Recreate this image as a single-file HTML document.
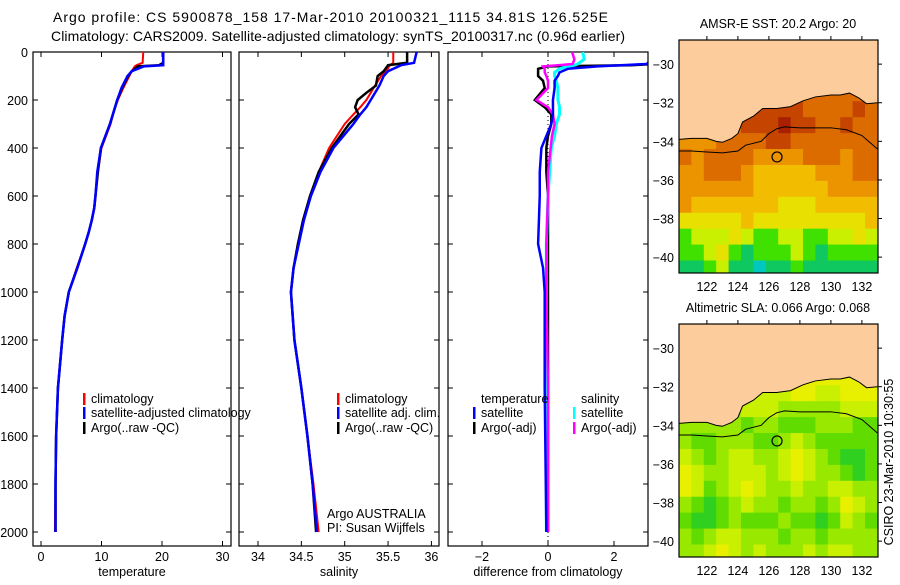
<!DOCTYPE html>
<html><head><meta charset="utf-8"><style>
body{margin:0;background:#fff;width:900px;height:580px;overflow:hidden;font-family:"Liberation Sans",sans-serif}
svg text{font-family:"Liberation Sans",sans-serif;font-size:12.5px;fill:#000}
</style></head><body>
<svg id="c" width="900" height="580"></svg>
<script>
// ---- data ----
const tDepth=[0,45,55,60,80,100,150,200,250,300,400,500,600,650,700,750,800,900,1000,1100,1200,1400,1600,1800,2000];
const tArgo=[20.2,20.2,19.5,16,15,14.4,13.4,12.6,12,11.4,9.9,9.4,9.0,8.8,8.4,7.9,7.3,6.0,4.6,3.9,3.5,2.8,2.5,2.4,2.4];
const tClim=[16.9,16.8,15.8,15.5,15,14.6,13.6,12.7,12,11.5,10,9.4,9.0,8.8,8.4,7.9,7.3,5.9,4.6,3.9,3.5,2.8,2.5,2.4,2.3];
const tSat=[20.2,20.2,20.2,17,15,14.3,13.3,12.6,12,11.4,9.9,9.3,9.0,8.8,8.4,7.9,7.3,6.0,4.6,3.9,3.5,2.8,2.5,2.4,2.4];
const sDepth=[0,45,55,80,100,140,170,200,230,260,300,400,500,600,700,800,900,1000,1200,1400,1600,1800,2000];
const sArgo=[35.72,35.72,35.5,35.45,35.38,35.36,35.25,35.15,35.12,35.16,35.05,34.85,34.7,34.6,34.52,34.46,34.41,34.38,34.42,34.5,34.57,34.63,34.67];
const sClim=[35.56,35.56,35.52,35.48,35.42,35.35,35.3,35.25,35.18,35.1,35.0,34.82,34.7,34.6,34.52,34.46,34.41,34.38,34.42,34.5,34.57,34.64,34.7];
const sSat=[35.83,35.8,35.65,35.5,35.45,35.4,35.35,35.3,35.25,35.18,35.1,34.87,34.72,34.61,34.53,34.47,34.41,34.38,34.42,34.5,34.57,34.63,34.68];
const dDepth=[0,30,50,55,60,70,85,100,120,150,200,230,260,300,350,400,500,600,800,900,1000,1400,2000];
const dTsat=[3.1,3.1,3.0,2.2,1.5,0.6,0.35,0.3,0.2,0.2,0.15,0.15,0.15,0.1,-0.05,-0.2,-0.25,-0.25,-0.3,-0.15,-0.1,-0.1,-0.05];
const dTargo=[3.3,3.3,3.3,2.5,0,-0.3,-0.3,-0.3,-0.15,-0.1,-0.4,-0.1,0.1,0.1,0,-0.05,-0.05,0,0,0,0,0,0];
const dSsat=[1.05,1.1,0.9,0.8,0.6,0.35,0.2,0.2,0.25,0.3,0.3,0.35,0.35,0.25,0.2,0.1,0.05,0,-0.05,-0.05,-0.05,-0.05,-0.05];
const dSargo=[0.73,0.8,0.75,0.3,-0.15,-0.1,-0.1,-0.05,0.0,0.0,-0.35,0.0,0.15,0.2,0.12,0.08,0.0,0.0,-0.05,-0.05,-0.05,0,0];
const depthTicks=[0,200,400,600,800,1000,1200,1400,1600,1800,2000];
const tTicks=[0,10,20,30];
const sTicks=[34,34.5,35,35.5,36];
const sTickLabels=["34","34.5","35","35.5","36"];
const dTicks=[-2,0,2];
const lonTicks=[122,124,126,128,130,132];
const latTicks=[-30,-32,-34,-36,-38,-40];
const argoLon=126.525, argoLat=-34.81;
const coastLon=[120.2,121,122,122.6,123,123.6,124,124.3,125,125.6,126.5,127.4,128.2,129,130,130.6,131.2,131.8,132.3,133];
const coastLat=[-33.9,-33.85,-33.85,-34.0,-34.05,-33.85,-33.6,-33.0,-32.7,-32.3,-32.3,-32.2,-31.9,-31.7,-31.6,-31.6,-31.5,-31.75,-32.05,-32.0];
const shelfLon=[120.2,121,122,123,124,124.5,125.5,126,126.5,127,128,130,131,132,133];
const shelfLat=[-34.5,-34.5,-34.55,-34.6,-34.5,-34.2,-34.0,-33.6,-33.35,-33.25,-33.3,-33.3,-33.4,-33.7,-34.4];
const sstGrid=[
"2222222222222222","2222221111222212","2222211101122122","3332222112222222",
"2322223333222322","3322234444433322","3333334444443333","3444444455544444",
"5555545555555554","7666567766776656","7765787776787777","8876889887888888"];
const slaGrid=[
"0000000000000000","1111111110011000","2222211122222111","2222232233322233",
"2332223321233333","1232112210123443","0122111210122343","0132101221221122",
"2343212232232012","3443233323343123","2321122232232222","2210121222121122"];
const sstPal=["#a82000","#c44400","#dc6c00","#eb9400","#f2bc00","#e8e000","#c8f000","#40e000","#10c860","#00c8c0"];
const slaPal=["#e8f000","#c8f000","#98e800","#60dc00","#30d020"];

// ---- helpers ----
const svg=document.getElementById('c');const NS="http://www.w3.org/2000/svg";
function mk(tag,at,parent){const e=document.createElementNS(NS,tag);for(const k in at)e.setAttribute(k,at[k]);(parent||svg).appendChild(e);return e;}
function txt(x,y,s,anchor,parent){const t=mk('text',{x:x,y:y,'text-anchor':anchor||'start'},parent);t.textContent=s;return t;}
const yD=d=>52+d*0.24;
const xT=v=>41+v*6.05;
const xS=v=>258+(v-34)*86.7;
const xDf=v=>548+v*33;
function clipRect(id,x,y,w,h){const cp=mk('clipPath',{id:id});mk('rect',{x:x,y:y,width:w,height:h},cp);}
clipRect('p1',33,52,198,494);clipRect('p2',239,52,200,494);clipRect('p3',448,52,200,494);
clipRect('m1',679,40,199,233);clipRect('m2',679,324,199,233);

function line(depths,vals,fx,color,w,clip,name){
  const g=mk('polyline',{points:depths.map((d,i)=>fx(vals[i])+','+yD(d)).join(' '),fill:'none',stroke:color,'stroke-width':w,'clip-path':'url(#'+clip+')'});
  
  
}
function panelFrame(x0,x1,name,ticks,fx,labels,xlabel,ylabels){
  const r=mk('rect',{x:x0,y:52,width:x1-x0,height:494,fill:'none',stroke:'#000','stroke-width':1.2});
  
  
  depthTicks.forEach(d=>{mk('line',{x1:x0,x2:x0+5,y1:yD(d),y2:yD(d),stroke:'#000'});mk('line',{x1:x1-5,x2:x1,y1:yD(d),y2:yD(d),stroke:'#000'});
    if(ylabels){const t=txt(28,yD(d)+5,String(d),'end');}});
  ticks.forEach((v,i)=>{const x=fx(v);mk('line',{x1:x,x2:x,y1:52,y2:57,stroke:'#000'});mk('line',{x1:x,x2:x,y1:541,y2:546,stroke:'#000'});
    const t=txt(x,561,labels[i],'middle');});
  const xl=txt((x0+x1)/2,576,xlabel,'middle');
}
// titles
let t1=txt(53,22,'Argo profile: CS 5900878_158 17-Mar-2010 20100321_1115 34.81S 126.525E');
t1.setAttribute('textLength','555');t1.setAttribute('style','font-size:14px');

let t2=txt(51,41,'Climatology: CARS2009. Satellite-adjusted climatology: synTS_20100317.nc (0.96d earlier)');
t2.setAttribute('textLength','574');t2.setAttribute('style','font-size:14px');


panelFrame(33,231,'temperature-panel',tTicks,xT,tTicks.map(String),'temperature',true);
panelFrame(239,439,'salinity-panel',sTicks,xS,sTickLabels,'salinity',false);
panelFrame(448,648,'difference-panel',dTicks,xDf,dTicks.map(v=>v<0?'\u2212'+(-v):String(v)),'difference from climatology',false);

line(tDepth,tClim,xT,'#f00',2,'p1','temp-climatology-line');
line(tDepth,tArgo,xT,'#000',2.5,'p1','temp-argo-line');
line(tDepth,tSat,xT,'#00f',2.5,'p1','temp-satellite-line');
line(sDepth,sClim,xS,'#f00',2,'p2','sal-climatology-line');
line(sDepth,sArgo,xS,'#000',2.5,'p2','sal-argo-line');
line(sDepth,sSat,xS,'#00f',2.5,'p2','sal-satellite-line');
mk('line',{x1:548,x2:548,y1:52,y2:546,stroke:'#000','stroke-dasharray':'1,3'});
line(dDepth,dTargo,xDf,'#000',2.5,'p3','diff-temp-argo-line');
line(dDepth,dSsat,xDf,'#0ff',3,'p3','diff-sal-satellite-line');
line(dDepth,dSargo,xDf,'#f0f',2.5,'p3','diff-sal-argo-line');
line(dDepth,dTsat,xDf,'#00f',2.5,'p3','diff-temp-satellite-line');

function legend(x,y,color,label){const g=mk('g',{});
  if(color)mk('rect',{x:x,y:y-10,width:2.5,height:12,fill:color},g);txt(x+8,y,label,'start',g);}
legend(83,403,'#f00','climatology');legend(83,417,'#00f','satellite-adjusted climatology');legend(83,432,'#000','Argo(..raw -QC)');
legend(337,403,'#f00','climatology');legend(337,417,'#00f','satellite adj. clim.');legend(337,432,'#000','Argo(..raw -QC)');
legend(473,403,null,'temperature');legend(473,417,'#00f','satellite');legend(473,432,'#000','Argo(-adj)');
legend(573,403,null,'salinity');legend(573,417,'#0ff','satellite');legend(573,432,'#f0f','Argo(-adj)');
let a1=txt(327,518,'Argo AUSTRALIA');
let a2=txt(327,532,'PI: Susan Wijffels');

// ---- maps ----
function drawMap(top,grid,pal,clip,name,title){
  const xL=v=>679+(v-120.2)*15.5, yL=v=>top+(-28.75-v)*19.3;
  const g=mk('g',{'clip-path':'url(#'+clip+')'});
  
  
  const lonW=12.8/16, latH=(41.0-31.1)/12;
  grid.forEach((row,r)=>{for(let c=0;c<row.length;c++){
    const lat0=-31.1-r*latH, lon0=120.2+c*lonW;
    const cell=mk('rect',{x:xL(lon0),y:yL(lat0),width:lonW*15.5+0.5,height:latH*19.3+0.5,fill:pal[+row[c]]},g);
    
    }});
  const lp=coastLon.map((v,i)=>xL(v)+','+yL(coastLat[i])).join(' ');
  const land=mk('polygon',{points:lp+' '+xL(133.5)+','+yL(-28)+' '+xL(119.5)+','+yL(-28),fill:'#fccc9c',stroke:'none'},g);
  
  mk('polyline',{points:lp,fill:'none',stroke:'#000','stroke-width':1},g);
  mk('polyline',{points:shelfLon.map((v,i)=>xL(v)+','+yL(shelfLat[i])).join(' '),fill:'none',stroke:'#000','stroke-width':1},g);
  const m=mk('circle',{cx:xL(argoLon),cy:yL(argoLat),r:5,fill:'none',stroke:'#000','stroke-width':1.2});
  
  mk('rect',{x:679,y:top,width:199,height:233,fill:'none',stroke:'#000','stroke-width':1.2});
  lonTicks.forEach(v=>{mk('line',{x1:xL(v),x2:xL(v),y1:top-4,y2:top,stroke:'#000'});
    const t=txt(xL(v),top+251,String(v),'middle');});
  latTicks.forEach(v=>{mk('line',{x1:878,x2:882,y1:yL(v),y2:yL(v),stroke:'#000'});
    const t=txt(674,yL(v)+5,'\u2212'+(-v),'end');});
  const tt=txt(778,top-12,title,'middle');
}
drawMap(40,sstGrid,sstPal,'m1','sst-map','AMSR-E SST: 20.2 Argo: 20');
drawMap(324,slaGrid,slaPal,'m2','sla-map','Altimetric SLA: 0.066 Argo: 0.068');
let cs=txt(0,0,'CSIRO 23-Mar-2010 10:30:55','middle');cs.setAttribute('transform','translate(893,462) rotate(-90)');

</script>
</body></html>
